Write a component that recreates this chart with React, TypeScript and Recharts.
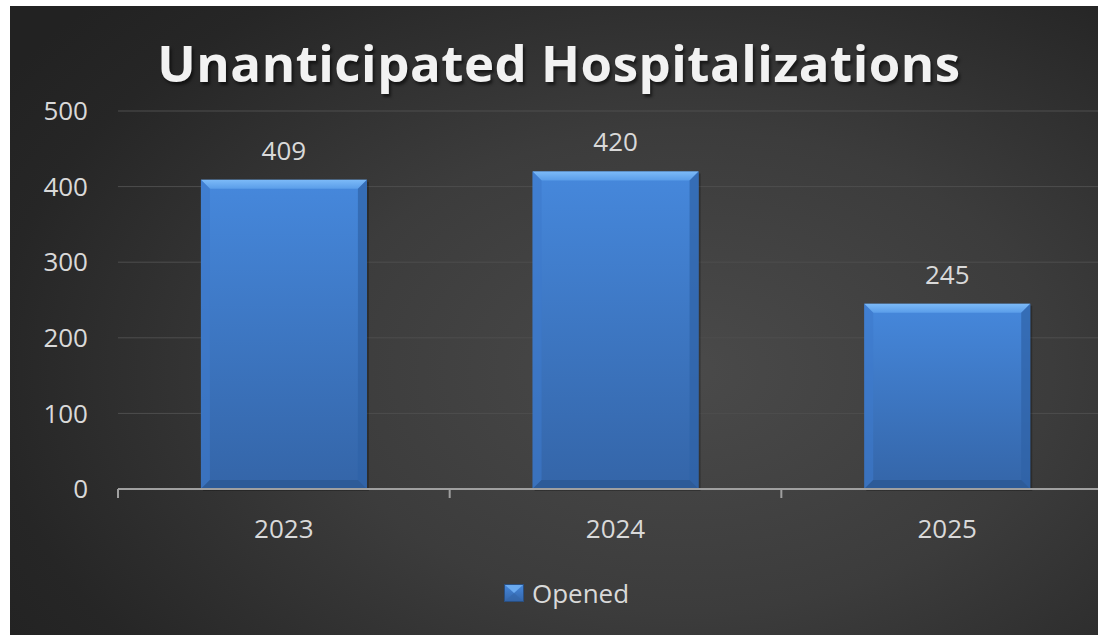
import React from 'react'
import { BarChart, Bar, XAxis, YAxis, CartesianGrid, LabelList, Legend } from 'recharts'

const years = ['2023', '2024', '2025']
const opened = [409, 420, 245]
const yTicks = [0, 100, 200, 300, 400, 500]

const data = years.map((year, i) => ({ year, opened: opened[i] }))

const FONT = '"Open Sans", "Noto Sans", sans-serif'
const TEXT = '#d9d9d9'
const AXIS = '#a0a0a0'
const X_TICK_MARGIN = 31

// bevelled bar, like the Excel preset
const BevelBar = (props: any) => {
  const { x, y, width: w, height: h } = props
  if (!h || h <= 0) return null
  const b = Math.min(9, w / 4, h / 4)
  return (
    <g>
      <rect x={x + 2} y={y + 2} width={w} height={h} fill="rgba(0,0,0,0.25)" />
      <rect x={x} y={y} width={w} height={h} fill="url(#barFill)" />
      <polygon points={`${x},${y} ${x + w},${y} ${x + w - b},${y + b} ${x + b},${y + b}`} fill="url(#bevelTop)" />
      <polygon points={`${x},${y} ${x + b},${y + b} ${x + b},${y + h - b} ${x},${y + h}`} fill="#3e7acb" opacity={0.6} />
      <polygon points={`${x + w},${y} ${x + w},${y + h} ${x + w - b},${y + h - b} ${x + w - b},${y + b}`} fill="#2f62a6" opacity={0.7} />
      <polygon points={`${x},${y + h} ${x + b},${y + h - b} ${x + w - b},${y + h - b} ${x + w},${y + h}`} fill="#2d5b98" />
    </g>
  )
}

// category label plus a tick mark on the left edge of each band
const YearTick = (props: any) => {
  const { x, y, payload } = props
  const axisY = y - X_TICK_MARGIN
  const edgeX = x - (payload.offset || 0)
  return (
    <g>
      <line x1={edgeX} x2={edgeX} y1={axisY} y2={axisY + 9} stroke={AXIS} strokeWidth={2} />
      <text x={x} y={y} dy="0.71em" textAnchor="middle" fill={TEXT} fontSize={26} fontFamily={FONT}>
        {payload.value}
      </text>
    </g>
  )
}

const LegendContent = () => (
  <div style={{ height: 40, display: 'flex', alignItems: 'center', justifyContent: 'center', paddingLeft: 10 }}>
    <svg width={21} height={19} style={{ marginRight: 7 }}>
      <rect x={0} y={0} width={20} height={18} fill="url(#barFill)" />
      <polygon points="0,0 20,0 10,9" fill="#6aaaf0" />
      <polygon points="0,18 20,18 10,9" fill="#3466a8" opacity={0.6} />
      <rect x={0.5} y={0.5} width={19} height={17} fill="none" stroke="#2a4f80" />
    </svg>
    <span style={{ fontFamily: FONT, fontSize: 26, color: TEXT }}>Opened</span>
  </div>
)

export default function App() {
  return (
    <div
      style={{
        position: 'absolute',
        left: 10,
        top: 6,
        width: 1088,
        height: 629,
        overflow: 'hidden',
        background: 'radial-gradient(ellipse 75% 85% at 62% 58%, #4a4a4a 0%, #3c3c3c 45%, #262626 85%, #222 100%)',
      }}
    >
      <div
        style={{
          position: 'absolute',
          left: 0,
          width: 1098,
          top: 31,
          textAlign: 'center',
          fontFamily: FONT,
          fontWeight: 700,
          fontSize: 51,
          lineHeight: 1,
          letterSpacing: 0.5,
          color: '#f2f2f2',
          textShadow: '2px 3px 3px rgba(0,0,0,0.55)',
        }}
      >
        Unanticipated Hospitalizations
      </div>
      <BarChart
        width={1103}
        height={629}
        data={data}
        margin={{ top: 105, right: 0, left: 0, bottom: 46 }}
        barCategoryGap="25%"
        style={{ position: 'absolute', left: 0, top: 0 }}
      >
        <defs>
          <linearGradient id="barFill" x1="0" y1="0" x2="0" y2="1">
            <stop offset="0%" stopColor="#4688dc" />
            <stop offset="100%" stopColor="#3465a8" />
          </linearGradient>
          <linearGradient id="bevelTop" x1="0" y1="0" x2="0" y2="1">
            <stop offset="0%" stopColor="#7cbaf8" />
            <stop offset="100%" stopColor="#5a9de9" />
          </linearGradient>
        </defs>
        <CartesianGrid vertical={false} stroke="#4e4e4e" strokeWidth={1} />
        <XAxis
          dataKey="year"
          height={60}
          axisLine={{ stroke: AXIS, strokeWidth: 2 }}
          tickLine={false}
          tickSize={0}
          tickMargin={X_TICK_MARGIN}
          tick={<YearTick />}
        />
        <YAxis
          width={108}
          domain={[0, 500]}
          ticks={yTicks}
          axisLine={false}
          tickLine={false}
          tickSize={0}
          tickMargin={30}
          tick={{ fill: TEXT, fontSize: 26, fontFamily: FONT }}
        />
        <Legend content={<LegendContent />} verticalAlign="bottom" wrapperStyle={{ bottom: 22 }} />
        <Bar dataKey="opened" name="Opened" shape={<BevelBar />} isAnimationActive={false}>
          <LabelList dataKey="opened" position="top" offset={20} fill={TEXT} fontSize={26} fontFamily={FONT} />
        </Bar>
      </BarChart>
    </div>
  )
}
